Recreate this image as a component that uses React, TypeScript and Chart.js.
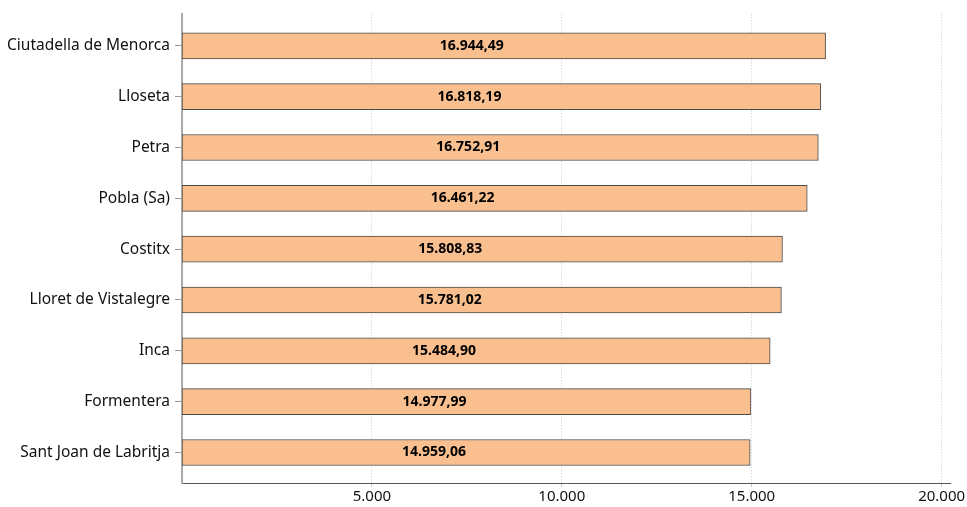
import React, { useEffect, useRef } from "react";
import { Chart, registerables } from "chart.js";

Chart.register(...registerables);

const categories = [
  "Ciutadella de Menorca",
  "Lloseta",
  "Petra",
  "Pobla (Sa)",
  "Costitx",
  "Lloret de Vistalegre",
  "Inca",
  "Formentera",
  "Sant Joan de Labritja",
];
const values = [16944.49, 16818.19, 16752.91, 16461.22, 15808.83, 15781.02, 15484.9, 14977.99, 14959.06];
const xTickValues = [5000, 10000, 15000, 20000];

const fmtThousands = (v: number) => Math.round(v).toString().replace(/\B(?=(\d{3})+(?!\d))/g, ".");
const fmtValue = (v: number) => {
  const [i, d] = v.toFixed(2).split(".");
  return i.replace(/\B(?=(\d{3})+(?!\d))/g, ".") + "," + d;
};

const FONT = "'Noto Sans', 'Open Sans', sans-serif";

const labelPlugin = {
  id: "barLabels",
  afterDatasetsDraw(chart: any) {
    const meta = chart.getDatasetMeta(0);
    const ctx = chart.ctx;
    ctx.save();
    ctx.font = `bold 14px ${FONT}`;
    ctx.fillStyle = "#000";
    ctx.textAlign = "center";
    ctx.textBaseline = "middle";
    meta.data.forEach((bar: any, i: number) => {
      const cx = (bar.x + bar.base) / 2 - 32;
      ctx.fillText(fmtValue(values[i]), cx, bar.y);
    });
    ctx.restore();
  },
};

export default function App() {
  const ref = useRef<HTMLCanvasElement>(null);
  useEffect(() => {
    if (!ref.current) return;
    const chart = new Chart(ref.current, {
      type: "bar",
      data: {
        datasets: [
          {
            data: values.map((v, i) => ({ x: v, y: i })),
            backgroundColor: "#F9BF8F",
            borderColor: "#4a4a4a",
            borderWidth: 1,
            borderSkipped: false,
            barThickness: 26,
          },
        ],
      },
      options: {
        indexAxis: "y",
        animation: false,
        responsive: false,
        maintainAspectRatio: false,
        layout: { padding: { top: 14, right: 17, left: 0, bottom: 0 } },
        plugins: { legend: { display: false }, tooltip: { enabled: false } },
        scales: {
          x: {
            type: "linear",
            min: 0,
            max: 20220,
            afterBuildTicks: (s: any) => {
              s.ticks = xTickValues.map((v) => ({ value: v }));
            },
            afterFit: (s: any) => {
              s.height = 24;
            },
            ticks: {
              callback: (v: any) => fmtThousands(Number(v)),
              color: "#111",
              font: { family: FONT, size: 15 },
              padding: 1,
              maxRotation: 0,
            },
            grid: {
              color: "#cccccc",
              lineWidth: 1,
              tickLength: 4,
              tickColor: "#cccccc",
              drawTicks: true,
            },
            border: { display: true, color: "#555555", width: 1, dash: [1, 2] },
          },
          y: {
            type: "linear",
            reverse: true,
            offset: false,
            min: -0.62,
            max: 8.6,
            afterBuildTicks: (s: any) => {
              s.ticks = categories.map((_, i) => ({ value: i }));
            },
            afterFit: (s: any) => {
              s.width = 182;
            },
            ticks: {
              autoSkip: false,
              callback: (v: any) => categories[Number(v)] ?? "",
              color: "#111",
              font: { family: FONT, size: 15.5 },
              padding: 5,
            },
            grid: {
              offset: false,
              drawOnChartArea: false,
              tickLength: 7,
              color: "#999999",
            },
            border: { display: true, color: "#aaaaaa", width: 2 },
          },
        },
      },
      plugins: [labelPlugin],
    } as any);
    return () => chart.destroy();
  }, []);
  return (
    <div style={{ position: "fixed", left: 0, top: 0, width: 967, height: 507 }}>
      <canvas ref={ref} width={967} height={507} style={{ width: 967, height: 507 }} />
    </div>
  );
}
